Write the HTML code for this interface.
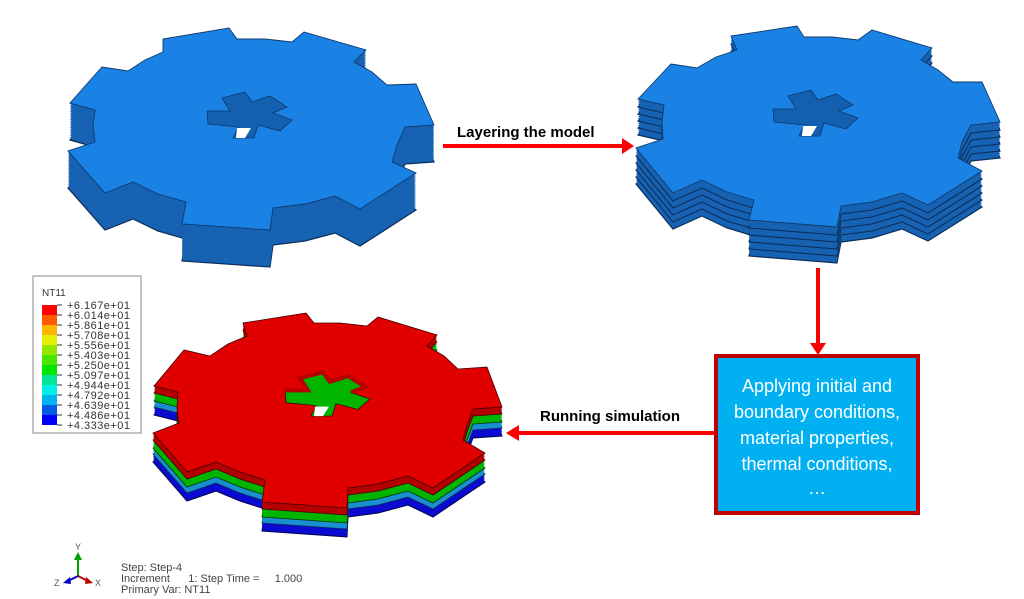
<!DOCTYPE html>
<html><head><style>
html,body{margin:0;padding:0;background:#fff;width:1024px;height:599px;overflow:hidden}
svg{display:block}
</style></head><body>
<svg width="1024" height="599" viewBox="0 0 1024 599" xmlns="http://www.w3.org/2000/svg">
<defs>
<path id="g1" d="M70,103 L102,67 128,71 145,60 163,52 163,39 229,28 237,39 265,39 292,42 304,32 366,50 354,62 372,72 387,85 416,84 434,125 405,127 397,145 392,162 416,173 360,209 335,196 305,204 273,208 270,230 182,224 186,202 158,194 133,182 105,193 68,151 95,142 93,126 95,110 Z"/>
<path id="g2" d="M638,99 L671,64 697,68 716,57 737,50 731,36 797,26 804,37 832,37 858,40 872,30 932,48 921,60 938,70 953,82 982,82 1000,122 971,125 962,142 958,158 982,171 928,205 902,193 872,202 841,206 837,227 749,220 754,200 727,192 702,180 673,193 636,148 663,139 662,122 664,105 Z"/>
<path id="g3" d="M154,386 L184,350 210,356 228,344 247,336 243,323 306,313 314,323 340,323 367,326 378,317 437,335 427,346 444,356 458,369 487,367 502,407 473,409 467,425 463,440 485,453 433,488 408,476 378,484 348,488 347,508 262,502 265,480 240,472 216,462 187,472 153,433 179,423 177,408 178,392 Z"/>
<path id="hole" d="M207,111 L230,111 222,98 245,92 252,102 270,96 287,107 273,113 292,120 280,131 258,125 254,138 233,138 238,127 208,124 Z"/>
</defs>

<!-- Gear 1 -->
<g fill="#1762b2">
<use href="#g1" y="37" stroke="#0b2f5a" stroke-width="1.2"/>
<use href="#g1" y="35"/><use href="#g1" y="33"/><use href="#g1" y="31"/><use href="#g1" y="29"/>
<use href="#g1" y="27"/><use href="#g1" y="25"/><use href="#g1" y="23"/><use href="#g1" y="21"/>
<use href="#g1" y="19"/><use href="#g1" y="17"/><use href="#g1" y="15"/><use href="#g1" y="13"/>
<use href="#g1" y="11"/><use href="#g1" y="9"/><use href="#g1" y="7"/><use href="#g1" y="5"/>
<use href="#g1" y="3"/><use href="#g1" y="1"/>
</g>
<use href="#g1" fill="#1b82e5" stroke="#0d3a6e" stroke-width="0.9"/>
<use href="#hole" fill="#1460b0" stroke="#0d3a6e" stroke-width="0.8"/>
<polygon points="237,128 251,128 245,138 236,138" fill="#fff"/>

<!-- Gear 2 -->
<g fill="#1762b2">
<use href="#g2" y="36" stroke="#0b2f5a" stroke-width="1.2"/>
<use href="#g2" y="34"/><use href="#g2" y="32"/><use href="#g2" y="30"/>
<use href="#g2" y="29" stroke="#0b2f5a" stroke-width="1.1"/>
<use href="#g2" y="27"/><use href="#g2" y="25"/><use href="#g2" y="23"/>
<use href="#g2" y="22" stroke="#0b2f5a" stroke-width="1.1"/>
<use href="#g2" y="20"/><use href="#g2" y="18"/><use href="#g2" y="16"/>
<use href="#g2" y="15" stroke="#0b2f5a" stroke-width="1.1"/>
<use href="#g2" y="13"/><use href="#g2" y="11"/><use href="#g2" y="9"/>
<use href="#g2" y="8" stroke="#0b2f5a" stroke-width="1.1"/>
<use href="#g2" y="6"/><use href="#g2" y="4"/><use href="#g2" y="2"/>
</g>
<use href="#g2" fill="#1b82e5" stroke="#0d3a6e" stroke-width="0.9"/>
<g transform="translate(566,-2)">
<use href="#hole" fill="#1460b0" stroke="#0d3a6e" stroke-width="0.8"/>
<polygon points="237,128 251,128 245,138 236,138" fill="#fff"/>
</g>

<!-- Gear 3 -->
<g>
<use href="#g3" y="29" fill="#0a0ad0" stroke="#000050" stroke-width="1"/>
<use href="#g3" y="27" fill="#0a0ad0"/>
<use href="#g3" y="25" fill="#0a0ad0"/>
<use href="#g3" y="23" fill="#0a0ad0"/>
<use href="#g3" y="21" fill="#1890d0" stroke="#0a3050" stroke-width="0.8"/>
<use href="#g3" y="19" fill="#1890d0"/>
<use href="#g3" y="17" fill="#1890d0"/>
<use href="#g3" y="15" fill="#00b400" stroke="#003000" stroke-width="0.8"/>
<use href="#g3" y="13" fill="#00b400"/>
<use href="#g3" y="11" fill="#00b400"/>
<use href="#g3" y="9" fill="#00b400"/>
<use href="#g3" y="7" fill="#b40000" stroke="#400000" stroke-width="0.8"/>
<use href="#g3" y="5" fill="#b40000"/>
<use href="#g3" y="3" fill="#b40000"/>
<use href="#g3" y="1" fill="#b40000"/>
</g>
<use href="#g3" fill="#e00000" stroke="#400000" stroke-width="0.8"/>
<g transform="translate(78,285) scale(1,0.95)">
<use href="#hole" fill="#00b400" stroke="#400000" stroke-width="0.8"/>
<path d="M207,111 L230,111 222,98 245,92 252,102 270,96 287,107 273,113" fill="none" stroke="#b40000" stroke-width="4"/>
<polygon points="237,128 251,128 245,138 236,138" fill="#fff"/>
</g>

<!-- Arrows -->
<g fill="#ff0000" stroke="none">
<rect x="443" y="144" width="182" height="4"/>
<polygon points="622,138 634,146 622,154"/>
<rect x="816" y="268" width="4" height="78"/>
<polygon points="810,343 818,355 826,343"/>
<rect x="518" y="431" width="196" height="4"/>
<polygon points="519,425 506,433 519,441"/>
</g>
<text x="457" y="137" font-family="Liberation Sans, sans-serif" font-size="15" font-weight="bold" fill="#000">Layering the model</text>
<text x="540" y="421" font-family="Liberation Sans, sans-serif" font-size="15" font-weight="bold" fill="#000">Running simulation</text>

<!-- Box -->
<rect x="716" y="356" width="202" height="157" fill="#00b0f0" stroke="#c00000" stroke-width="4"/>
<g font-family="Liberation Sans, sans-serif" font-size="18" fill="#fff" text-anchor="middle">
<text x="817" y="392">Applying initial and</text>
<text x="817" y="418">boundary conditions,</text>
<text x="817" y="444">material properties,</text>
<text x="817" y="470">thermal conditions,</text>
<text x="817" y="494">…</text>
</g>

<!-- Legend -->
<rect x="33" y="276" width="108" height="157" fill="#fff" stroke="#888" stroke-width="1"/>
<text x="42" y="296" font-family="Liberation Sans, sans-serif" font-size="10" fill="#333">NT11</text>
<g>
<rect x="42" y="305" width="15" height="10" fill="#ff0000"/>
<rect x="42" y="315" width="15" height="10" fill="#ff5a00"/>
<rect x="42" y="325" width="15" height="10" fill="#ffb400"/>
<rect x="42" y="335" width="15" height="10" fill="#e0f000"/>
<rect x="42" y="345" width="15" height="10" fill="#96e600"/>
<rect x="42" y="355" width="15" height="10" fill="#46e600"/>
<rect x="42" y="365" width="15" height="10" fill="#00e600"/>
<rect x="42" y="375" width="15" height="10" fill="#00e696"/>
<rect x="42" y="385" width="15" height="10" fill="#00f0e6"/>
<rect x="42" y="395" width="15" height="10" fill="#00b4f0"/>
<rect x="42" y="405" width="15" height="10" fill="#005ae6"/>
<rect x="42" y="415" width="15" height="10" fill="#0000ff"/>
</g>
<g stroke="#333" stroke-width="1">
<line x1="57" y1="305" x2="62" y2="305"/><line x1="57" y1="315" x2="62" y2="315"/><line x1="57" y1="325" x2="62" y2="325"/>
<line x1="57" y1="335" x2="62" y2="335"/><line x1="57" y1="345" x2="62" y2="345"/><line x1="57" y1="355" x2="62" y2="355"/>
<line x1="57" y1="365" x2="62" y2="365"/><line x1="57" y1="375" x2="62" y2="375"/><line x1="57" y1="385" x2="62" y2="385"/>
<line x1="57" y1="395" x2="62" y2="395"/><line x1="57" y1="405" x2="62" y2="405"/><line x1="57" y1="415" x2="62" y2="415"/>
<line x1="57" y1="425" x2="62" y2="425"/>
</g>
<g font-family="Liberation Sans, sans-serif" font-size="11" fill="#333" textLength="63">
<text x="67" y="309" textLength="63">+6.167e+01</text>
<text x="67" y="319" textLength="63">+6.014e+01</text>
<text x="67" y="329" textLength="63">+5.861e+01</text>
<text x="67" y="339" textLength="63">+5.708e+01</text>
<text x="67" y="349" textLength="63">+5.556e+01</text>
<text x="67" y="359" textLength="63">+5.403e+01</text>
<text x="67" y="369" textLength="63">+5.250e+01</text>
<text x="67" y="379" textLength="63">+5.097e+01</text>
<text x="67" y="389" textLength="63">+4.944e+01</text>
<text x="67" y="399" textLength="63">+4.792e+01</text>
<text x="67" y="409" textLength="63">+4.639e+01</text>
<text x="67" y="419" textLength="63">+4.486e+01</text>
<text x="67" y="429" textLength="63">+4.333e+01</text>
</g>

<!-- Triad -->
<line x1="78" y1="576" x2="78" y2="558" stroke="#00a000" stroke-width="2"/>
<polygon points="74,560 78,552 82,560" fill="#00a000"/>
<line x1="78" y1="576" x2="88" y2="581" stroke="#c00000" stroke-width="2"/>
<polygon points="86,577 93,583 85,584" fill="#c00000"/>
<line x1="78" y1="576" x2="68" y2="581" stroke="#0000c0" stroke-width="2"/>
<polygon points="70,577 63,583 71,584" fill="#0000c0"/>
<g font-family="Liberation Sans, sans-serif" font-size="9" fill="#555">
<text x="75" y="550">Y</text>
<text x="54" y="586">Z</text>
<text x="95" y="586">X</text>
</g>
<g font-family="Liberation Sans, sans-serif" font-size="11" fill="#444">
<text x="121" y="571">Step: Step-4</text>
<text x="121" y="582" xml:space="preserve">Increment      1: Step Time =     1.000</text>
<text x="121" y="593">Primary Var: NT11</text>
</g>
</svg>
</body></html>
